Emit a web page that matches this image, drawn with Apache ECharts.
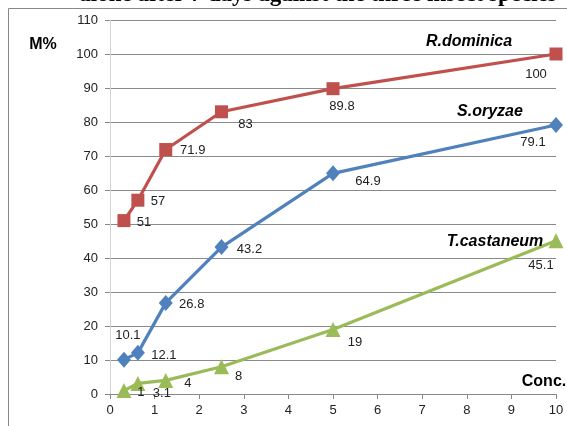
<!DOCTYPE html>
<html>
<head>
<meta charset="utf-8">
<script src="https://cdn.jsdelivr.net/npm/echarts@6/dist/echarts.min.js"></script>
<style>html,body{margin:0;padding:0;background:#fff;}#c{width:567px;height:426px;}</style>
</head>
<body>
<div id="c"></div>
<script>
// ---- data ----
const conc = [0.3125, 0.625, 1.25, 2.5, 5, 10];
const rDominica = [51, 57, 71.9, 83, 89.8, 100];
const sOryzae = [10.1, 12.1, 26.8, 43.2, 64.9, 79.1];
const tCastaneum = [1, 3.1, 4, 8, 19, 45.1];
const seriesNames = ['R.dominica', 'S.oryzae', 'T.castaneum'];
const yAxisName = 'M%';
const xAxisName = 'Conc.';
const titleText = 'alone after 7 days against the three insect species';

// ---- styling (label offsets from each point) ----
const rOff = [[20,2],[20,1],[27,1],[24,13],[9,18],[-20,20]];
const sOff = [[4,-24],[26,3],[26,2],[28,2],[35,8],[-23,17]];
const tOff = [[17,2],[24,10],[22,3],[17,10],[22,13],[-15,25]];

function build(vals, offs) {
  return vals.map((v, i) => ({
    value: [conc[i], v],
    label: { offset: offs[i] }
  }));
}

const labelBase = {
  show: true, position: 'inside', align: 'center', verticalAlign: 'middle',
  color: '#222', fontFamily: 'Liberation Sans', fontSize: 13,
  formatter: p => String(p.value[1])
};

const chart = echarts.init(document.getElementById('c'));
chart.setOption({
  animation: false,
  backgroundColor: '#fff',
  grid: { left: 110, right: 11, top: 20, bottom: 32 },
  xAxis: {
    type: 'value', min: 0, max: 10, interval: 1,
    splitLine: { show: false },
    axisLine: { show: true, lineStyle: { color: '#888', width: 1 } },
    axisTick: { show: true, length: 5, lineStyle: { color: '#888' } },
    axisLabel: { color: '#222', fontFamily: 'Liberation Sans', fontSize: 13, margin: 10 }
  },
  yAxis: {
    type: 'value', min: 0, max: 110, interval: 10,
    splitLine: { show: true, lineStyle: { color: '#8a8a8a', width: 1 } },
    axisLine: { show: true, lineStyle: { color: '#d4d4d4', width: 1 } },
    axisTick: { show: true, length: 5, lineStyle: { color: '#888' } },
    axisLabel: { color: '#222', fontFamily: 'Liberation Sans', fontSize: 13, margin: 12 }
  },
  series: [
    {
      name: seriesNames[0], type: 'line', data: build(rDominica, rOff),
      symbol: 'rect', symbolSize: 13, clip: false,
      lineStyle: { color: '#C0504D', width: 3.2 }, itemStyle: { color: '#C0504D' },
      label: labelBase, z: 3
    },
    {
      name: seriesNames[1], type: 'line', data: build(sOryzae, sOff),
      symbol: 'diamond', symbolSize: [14, 16], clip: false,
      lineStyle: { color: '#4F81BD', width: 3.2 }, itemStyle: { color: '#4F81BD' },
      label: labelBase, z: 3
    },
    {
      name: seriesNames[2], type: 'line', data: build(tCastaneum, tOff),
      symbol: 'triangle', symbolSize: 15, clip: false,
      lineStyle: { color: '#9BBB59', width: 3.2 }, itemStyle: { color: '#9BBB59' },
      label: labelBase, z: 3
    }
  ],
  graphic: [
    { type: 'rect', shape: { x: 8.5, y: 8.5, width: 600, height: 500 }, style: { fill: 'none', stroke: '#888', lineWidth: 1 }, z: 100, silent: true },
    { type: 'text', x: 318, y: -5, style: { text: titleText, font: 'bold 23px "Liberation Serif"', fill: '#000', align: 'center', verticalAlign: 'middle' }, z: 100 },
    { type: 'text', x: 43, y: 45, style: { text: yAxisName, font: 'bold 16px "Liberation Sans"', fill: '#000', align: 'center', verticalAlign: 'middle' }, z: 100 },
    { type: 'text', x: 544, y: 382, style: { text: xAxisName, font: 'bold 16px "Liberation Sans"', fill: '#000', align: 'center', verticalAlign: 'middle' }, z: 100 },
    { type: 'text', x: 469, y: 42, style: { text: seriesNames[0], font: 'italic bold 16px "Liberation Sans"', fill: '#000', align: 'center', verticalAlign: 'middle' }, z: 100 },
    { type: 'text', x: 490, y: 112, style: { text: seriesNames[1], font: 'italic bold 16px "Liberation Sans"', fill: '#000', align: 'center', verticalAlign: 'middle' }, z: 100 },
    { type: 'text', x: 495, y: 242, style: { text: seriesNames[2], font: 'italic bold 16px "Liberation Sans"', fill: '#000', align: 'center', verticalAlign: 'middle' }, z: 100 }
  ]
});
</script>
</body>
</html>
